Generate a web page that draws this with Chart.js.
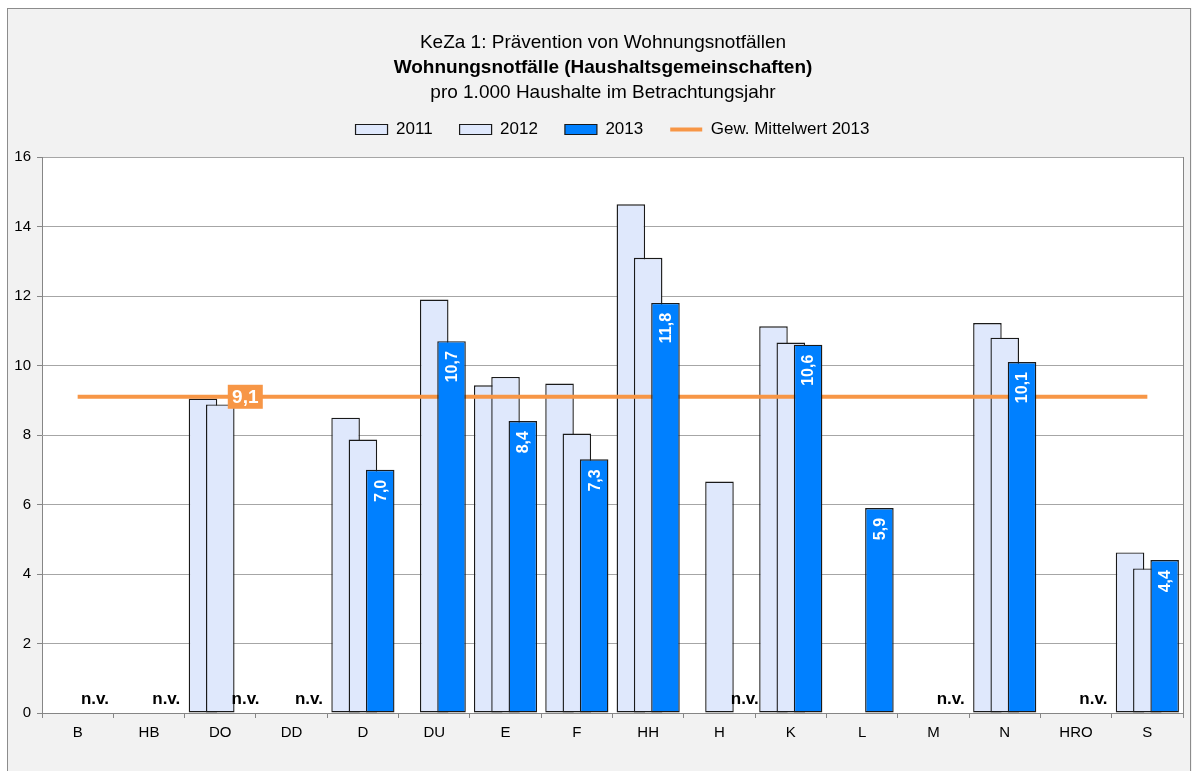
<!DOCTYPE html>
<html>
<head>
<meta charset="utf-8">
<script src="https://cdn.jsdelivr.net/npm/chart.js@4/dist/chart.umd.min.js"></script>
<style>
html,body{margin:0;padding:0;background:#fff;}
#wrap{width:1192px;height:771px;position:relative;}
</style>
</head>
<body>
<div id="wrap"><canvas id="c" width="1192" height="771"></canvas></div>
<script>
// ---- data ----
const categories = ['B','HB','DO','DD','D','DU','E','F','HH','H','K','L','M','N','HRO','S'];
const values2011 = [null, null, 9.05, null, 8.50, null, 9.43, 9.48, 14.64, null, 11.13, null, null, 11.22, null, 4.62];
const values2012 = [null, null, 8.88, null, 7.87, 11.90, 9.67, 8.04, 13.10, 6.66, 10.66, null, null, 10.80, null, 4.16];
const values2013 = [null, null, null, null, 7.0, 10.7, 8.4, 7.3, 11.8, null, 10.6, 5.9, null, 10.1, null, 4.4];
const mean2013   = [9.1, 9.1, 9.1, 9.1, 9.1, 9.1, 9.1, 9.1, 9.1, 9.1, 9.1, 9.1, 9.1, 9.1, 9.1, 9.1];
const seriesNames = ['2011', '2012', '2013', 'Gew. Mittelwert 2013'];
const titleLines = ['KeZa 1: Prävention von Wohnungsnotfällen', 'Wohnungsnotfälle (Haushaltsgemeinschaften)', 'pro 1.000 Haushalte im Betrachtungsjahr'];
const yMin = 0, yMax = 16, yStep = 2;
const missingLabel = 'n.v.';

const FONT = '"Liberation Sans", Arial, Helvetica, sans-serif';
const LIGHT = '#dfe8fc';
const BLUE = '#0080ff';
const ORANGE = '#f79646';
const EDGE = '#1a1a1a';

const fmt = v => v.toFixed(1).replace('.', ',');

const customPlugin = {
  id: 'custom',
  beforeDraw(chart) {
    const ctx = chart.ctx, a = chart.chartArea;
    ctx.save();
    ctx.fillStyle = '#fff';
    ctx.fillRect(0, 0, chart.width, chart.height);
    ctx.fillStyle = '#f2f2f2';
    ctx.fillRect(7, 8, chart.width - 7, chart.height - 8);
    ctx.strokeStyle = '#8c8c8c';
    ctx.lineWidth = 1;
    ctx.strokeRect(7.5, 8.5, chart.width - 9, chart.height + 20);
    ctx.fillStyle = '#fff';
    ctx.fillRect(a.left, a.top, a.right - a.left, a.bottom - a.top);
    // title
    ctx.fillStyle = '#000';
    ctx.textAlign = 'center';
    ctx.textBaseline = 'alphabetic';
    const cx = 603;
    ctx.font = '19px ' + FONT;
    ctx.fillText(titleLines[0], cx, 48);
    ctx.font = 'bold 19px ' + FONT;
    ctx.fillText(titleLines[1], cx, 73);
    ctx.font = '19px ' + FONT;
    ctx.fillText(titleLines[2], cx, 98);
    ctx.restore();
  },
  beforeDatasetsDraw(chart) {
    const ctx = chart.ctx, a = chart.chartArea;
    ctx.save();
    ctx.strokeStyle = '#868686';
    ctx.lineWidth = 1;
    ctx.beginPath();
    ctx.moveTo(Math.round(a.right) + 0.5, a.top);
    ctx.lineTo(Math.round(a.right) + 0.5, a.bottom);
    ctx.stroke();
    ctx.restore();
  },
  beforeDatasetDraw() {
    return false;
  },
  afterDatasetsDraw(chart) {
    const ctx = chart.ctx;
    // draw order: 2011, 2012, mean line, 2013
    [0, 1, 3, 2].forEach(i => {
      const meta = chart.getDatasetMeta(i);
      if (meta && meta.controller) meta.controller.draw();
    });
    const y0 = chart.scales.y.getPixelForValue(0);
    const meta13 = chart.getDatasetMeta(2);
    meta13.data.forEach((el, i) => {
      const v = values2013[i];
      ctx.save();
      if (v == null) {
        const shift = values2012[i] != null ? 8 : 0;
        ctx.font = 'bold 17px ' + FONT;
        ctx.fillStyle = '#000';
        ctx.textAlign = 'center';
        ctx.textBaseline = 'alphabetic';
        ctx.fillText(missingLabel, el.x + shift, y0 - 9);
      } else {
        ctx.translate(el.x, el.y + 10);
        ctx.rotate(-Math.PI / 2);
        ctx.font = 'bold 16px ' + FONT;
        ctx.fillStyle = '#fff';
        ctx.textAlign = 'right';
        ctx.textBaseline = 'middle';
        ctx.fillText(fmt(v), 0, 1);
      }
      ctx.restore();
    });
    // mean label
    const pt = chart.getDatasetMeta(3).data[2];
    ctx.save();
    const bx = pt.x + 25, by = pt.y;
    ctx.fillStyle = ORANGE;
    ctx.fillRect(bx - 17.5, by - 12, 35, 24);
    ctx.fillStyle = '#fff';
    ctx.font = 'bold 19px ' + FONT;
    ctx.textAlign = 'center';
    ctx.textBaseline = 'middle';
    ctx.fillText(fmt(mean2013[2]), bx, by + 1);
    ctx.restore();
  }
};

const barCommon = {
  type: 'bar',
  borderColor: EDGE,
  borderWidth: 1.4,
  borderSkipped: false,
  categoryPercentage: 0.728,
  barPercentage: 1.65
};

new Chart(document.getElementById('c'), {
  data: {
    labels: categories,
    datasets: [
      Object.assign({}, barCommon, { label: seriesNames[0], data: values2011, backgroundColor: LIGHT }),
      Object.assign({}, barCommon, { label: seriesNames[1], data: values2012, backgroundColor: LIGHT }),
      Object.assign({}, barCommon, { label: seriesNames[2], data: values2013, backgroundColor: BLUE }),
      { type: 'line', label: seriesNames[3], data: mean2013, borderColor: ORANGE, backgroundColor: ORANGE,
        borderWidth: 4, pointRadius: 0, fill: false, tension: 0 }
    ]
  },
  options: {
    responsive: false,
    animation: false,
    devicePixelRatio: 1,
    layout: { padding: { top: 94, left: 0, right: 9, bottom: 23 } },
    font: { family: FONT },
    plugins: {
      tooltip: { enabled: false },
      title: { display: false },
      subtitle: { display: true, text: '', position: 'top', weight: 500, padding: 0, font: { size: 9, lineHeight: 1 } },
      legend: {
        position: 'top',
        fullSize: false,
        onClick: null,
        labels: {
          usePointStyle: true,
          pointStyleWidth: 32,
          boxHeight: 10,
          padding: 27,
          color: '#000',
          font: { family: FONT, size: 17 },
          generateLabels(chart) {
            return [
              { text: seriesNames[0], fillStyle: LIGHT, strokeStyle: EDGE, lineWidth: 1.2, pointStyle: 'rect', datasetIndex: 0, hidden: false, fontColor: '#000' },
              { text: seriesNames[1], fillStyle: LIGHT, strokeStyle: EDGE, lineWidth: 1.2, pointStyle: 'rect', datasetIndex: 1, hidden: false, fontColor: '#000' },
              { text: seriesNames[2], fillStyle: BLUE, strokeStyle: EDGE, lineWidth: 1.2, pointStyle: 'rect', datasetIndex: 2, hidden: false, fontColor: '#000' },
              { text: seriesNames[3], fillStyle: ORANGE, strokeStyle: ORANGE, lineWidth: 4, pointStyle: 'line', datasetIndex: 3, hidden: false, fontColor: '#000' }
            ];
          }
        }
      }
    },
    scales: {
      x: {
        type: 'category',
        offset: true,
        grid: { display: true, drawOnChartArea: false, drawTicks: true, tickLength: 5, color: '#868686', offset: true },
        border: { display: true, color: '#868686', width: 1 },
        ticks: { color: '#000', font: { family: FONT, size: 15 }, padding: 6, maxRotation: 0, autoSkip: false }
      },
      y: {
        min: yMin,
        max: yMax,
        afterFit(scale) { scale.width = 42; },
        grid: { color: '#a6a6a6', tickLength: 5, tickColor: '#868686', lineWidth: 1 },
        border: { display: true, color: '#868686', width: 1 },
        ticks: { stepSize: yStep, color: '#000', font: { family: FONT, size: 15 }, padding: 6 }
      }
    }
  },
  plugins: [customPlugin]
});
</script>
</body>
</html>
